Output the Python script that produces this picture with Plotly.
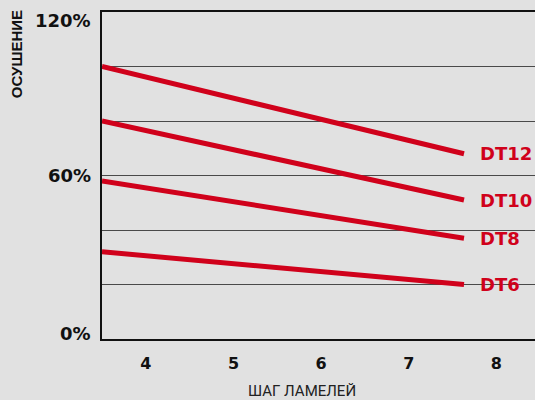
import plotly.graph_objects as go

# Drying efficiency vs. fin pitch for each DT model
pitch = [3.5, 7.63]
series_names = ["DT12", "DT10", "DT8", "DT6"]
series_values = {
    "DT12": [100, 68],
    "DT10": [80, 51],
    "DT8": [58, 37],
    "DT6": [32, 20],
}
x_ticks = [4, 5, 6, 7, 8]
x_tick_text = ["4", "5", "6", "7", "8"]
y_tick_vals = [0, 60, 120]
y_tick_text = ["0%", "60%", "120%"]

RED = "#d0011b"
BG = "#e1e1e1"
BOLD = "DejaVu Sans"

fig = go.Figure()
for name in series_names:
    fig.add_trace(go.Scatter(
        x=pitch, y=series_values[name], mode="lines",
        line=dict(color=RED, width=5), showlegend=False, hoverinfo="skip",
    ))
    # series label just right of the line end
    fig.add_annotation(
        x=pitch[-1], y=series_values[name][-1], xref="x", yref="y",
        text=f"<b>{name}</b>", showarrow=False, xanchor="left", yanchor="middle",
        xshift=14, font=dict(family=BOLD, size=18, color=RED),
    )

# y tick labels (nudged toward the plot centre)
label_shift = {0: 6, 60: 0, 120: -8.5}
for v, t in zip(y_tick_vals, y_tick_text):
    fig.add_annotation(
        x=0, y=v, xref="paper", yref="y", text=f"<b>{t}</b>", showarrow=False,
        xanchor="right", yanchor="middle", xshift=-9, yshift=label_shift[v],
        font=dict(family=BOLD, size=18, color="#111111"),
    )

fig.add_annotation(
    x=-0.197, y=0.87, xref="paper", yref="paper", text="<b>ОСУШЕНИЕ</b>",
    textangle=-90, showarrow=False, xanchor="center", yanchor="middle",
    font=dict(family="Liberation Sans", size=15, color="#111111"),
)
fig.add_annotation(
    x=0.462, y=-0.16, xref="paper", yref="paper", text="ШАГ ЛАМЕЛЕЙ",
    showarrow=False, xanchor="center", yanchor="middle",
    font=dict(family="Liberation Sans Narrow, Roboto", size=15, color="#222222"),
)

fig.update_layout(
    width=535, height=400,
    margin=dict(l=102, r=0, t=12, b=61),
    paper_bgcolor=BG, plot_bgcolor=BG,
    xaxis=dict(
        range=[3.5, 8.44], tickvals=x_ticks,
        ticktext=[f"<b>{t}</b>" for t in x_tick_text],
        ticks="", showgrid=False, zeroline=False,
        showline=True, linecolor="#111111", linewidth=2, mirror=True,
        ticklabelstandoff=9,
        tickfont=dict(family=BOLD, size=16, color="#111111"),
    ),
    yaxis=dict(
        range=[0, 120], dtick=20, tick0=0, showticklabels=False, ticks="",
        showgrid=True, gridcolor="#4a4a4a", gridwidth=1, zeroline=False,
        showline=True, linecolor="#111111", linewidth=2,
    ),
)

fig.write_html("out.html")
